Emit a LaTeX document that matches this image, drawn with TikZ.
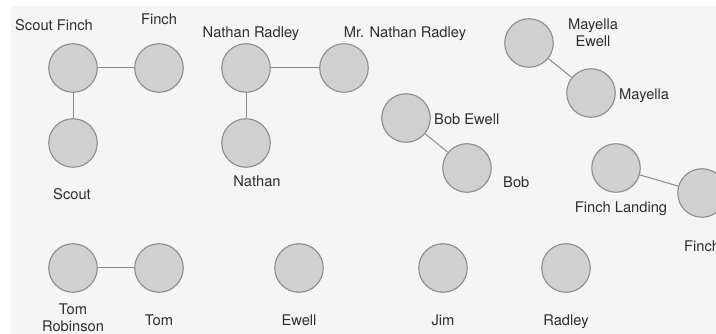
\documentclass[tikz,border=0pt]{standalone}
\usepackage{fontspec}
\setmainfont{TeX Gyre Heros}
\definecolor{bgcol}{HTML}{F5F5F5}
\definecolor{circfill}{HTML}{D1D1D1}
\definecolor{circedge}{HTML}{8C8C8C}
\definecolor{linkcol}{HTML}{8A8A8A}
\definecolor{txtcol}{HTML}{2E2E2E}

\begin{document}
\begin{tikzpicture}[x=1pt,y=-1pt,
    person/.style={circle,draw=circedge,fill=circfill,line width=1.1pt,minimum size=48.5pt,inner sep=0pt},
    persontext/.style={font=\fontsize{14.7}{17}\selectfont,text=txtcol,inner sep=0pt,align=center},
    link/.style={draw=linkcol,line width=1pt}]
    \useasboundingbox (0,0) rectangle (716,334);
    \clip (0,0) rectangle (716,334);
    \fill[bgcol] (11,6) rectangle (716,334);

    \node[person] (sf) at (73,68) {};
    \node[person] (f) at (159,68) {};
    \node[person] (s) at (73,143) {};
    \node[person] (nr) at (246,68) {};
    \node[person] (mnr) at (344,68) {};
    \node[person] (n) at (246,143) {};
    \node[person] (be) at (406,118) {};
    \node[person] (b) at (467,168) {};
    \node[person] (me) at (529,43) {};
    \node[person] (m) at (591,93) {};
    \node[person] (fl) at (616,168) {};
    \node[person] (f2) at (702,193) {};
    \node[person] (tr) at (73,268) {};
    \node[person] (t) at (159,268) {};
    \node[person] (e) at (299,268) {};
    \node[person] (j) at (443,268) {};
    \node[person] (r) at (566,268) {};

    \node[persontext,anchor=base] (sfl) at (54,31) {Scout Finch};
    \node[persontext,anchor=base] (fla) at (159,25) {Finch};
    \node[persontext,anchor=base] (sl) at (72,200) {Scout};
    \node[persontext,anchor=base] (nrl) at (251,38) {Nathan Radley};
    \node[persontext,anchor=base] (mnrl) at (405,38) {Mr. Nathan Radley};
    \node[persontext,anchor=base] (nl) at (257,187) {Nathan};
    \node[persontext,anchor=base west] (bel) at (434,125) {Bob Ewell};
    \node[persontext,anchor=base west] (bl) at (503,188) {Bob};
    \node[persontext] (mel) at (593,32.5) {Mayella\\Ewell};
    \node[persontext,anchor=base west] (ml) at (619,100) {Mayella};
    \node[persontext,anchor=base] (fll) at (621,213) {Finch Landing};
    \node[persontext,anchor=base west] (f2l) at (684,252) {Finch};
    \node[persontext] (trl) at (73,318) {Tom\\Robinson};
    \node[persontext,anchor=base] (tl) at (159,326) {Tom};
    \node[persontext,anchor=base] (el) at (299,326) {Ewell};
    \node[persontext,anchor=base] (jl) at (443,326) {Jim};
    \node[persontext,anchor=base] (rl) at (566,326) {Radley};

    \path[link]
    (sf) edge (f)
    (sf) edge (s)
    (nr) edge (mnr)
    (nr) edge (n)
    (be) edge (b)
    (me) edge (m)
    (fl) edge (f2)
    (tr) edge (t)
    ;
\end{tikzpicture}
\end{document}
